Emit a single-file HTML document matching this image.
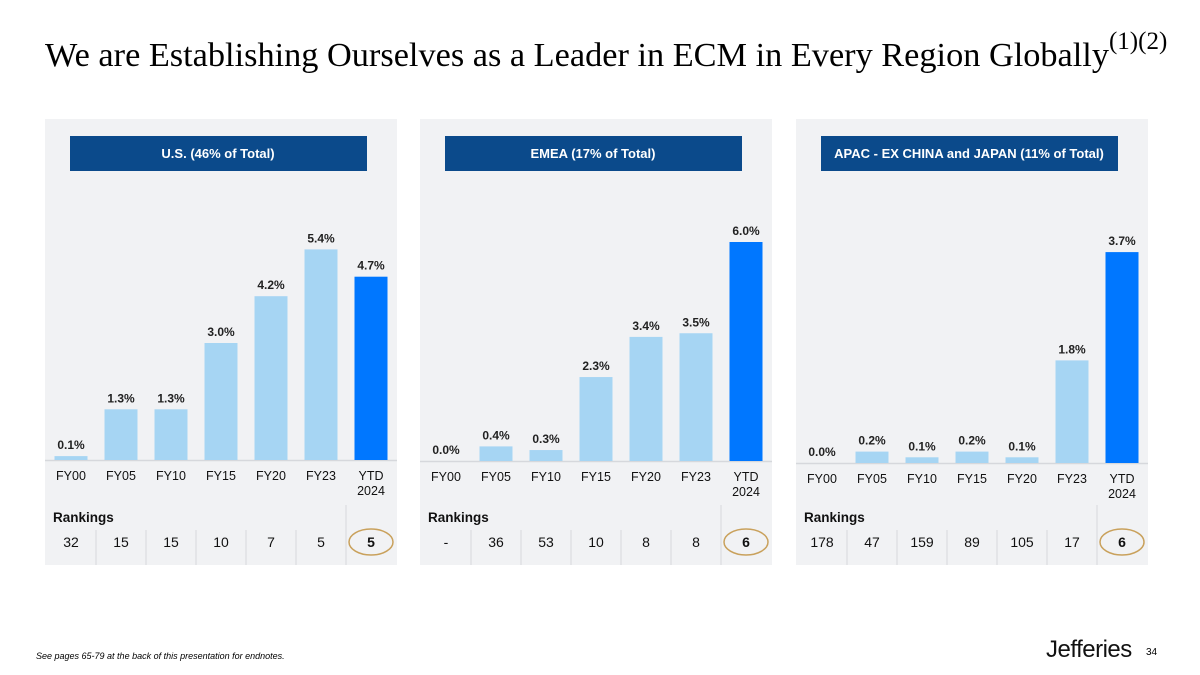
<!DOCTYPE html>
<html><head><meta charset="utf-8"><style>
body{margin:0;width:1200px;height:675px;background:#fff;position:relative;overflow:hidden;font-family:"Liberation Sans",sans-serif}
.title{position:absolute;left:45px;top:36px;font-family:"Liberation Serif",serif;font-size:34.3px;color:#000;white-space:nowrap}
.title sup{font-size:25px;vertical-align:17px;line-height:0}
.note{position:absolute;left:36px;top:651px;font-size:9px;font-style:italic;color:#000}
.logo{position:absolute;left:1046px;top:636px;font-size:24px;color:#111;letter-spacing:-0.5px}
.pg{position:absolute;left:1146px;top:647px;font-size:10px}
</style></head><body>
<div class="title">We are Establishing Ourselves as a Leader in ECM in Every Region Globally<sup>(1)(2)</sup></div>
<svg id="chart" width="1200" height="675" style="position:absolute;left:0;top:0"></svg>
<div class="note">See pages 65-79 at the back of this presentation for endnotes.</div>
<div class="logo">Jefferies</div>
<div class="pg">34</div>
<script>
const categories=["FY00","FY05","FY10","FY15","FY20","FY23","YTD 2024"];
const titles=["U.S. (46% of Total)","EMEA (17% of Total)","APAC - EX CHINA and JAPAN  (11% of Total)"];
const usValues=[0.1,1.3,1.3,3.0,4.2,5.4,4.7];
const emeaValues=[0.0,0.4,0.3,2.3,3.4,3.5,6.0];
const apacValues=[0.0,0.2,0.1,0.2,0.1,1.8,3.7];
const usRanks=["32","15","15","10","7","5","5"];
const emeaRanks=["-","36","53","10","8","8","6"];
const apacRanks=["178","47","159","89","105","17","6"];
const series=[usValues,emeaValues,apacValues];
const ranks=[usRanks,emeaRanks,apacRanks];
const panelX=[45,420,796];
const scales=[39,36.5,57];
const baselines=[460,461,463];
const ns="http://www.w3.org/2000/svg";
const svg=document.getElementById('chart');
function mk(t,a,p){const e=document.createElementNS(ns,t);for(const k in a)e.setAttribute(k,a[k]);(p||svg).appendChild(e);return e;}
function xPos(p,i){return panelX[p]+26+i*50;}
function yPos(p,v){return baselines[p]-v*scales[p];}
for(let p=0;p<3;p++){
  const px=panelX[p];
  const bg=mk('rect',{x:px,y:119,width:352,height:446,fill:'#f1f2f4'});
  
  
  const hd=mk('rect',{x:px+25,y:136,width:297,height:35,fill:'#0b4a8b'});
  
  
  const ht=mk('text',{x:px+173,y:158,'text-anchor':'middle','font-size':13,'font-weight':'bold',fill:'#fff'});
  ht.textContent=titles[p];
  
  
  const ax=mk('line',{x1:px,x2:px+352,y1:baselines[p]+0.5,y2:baselines[p]+0.5,stroke:'#d6d8dc','stroke-width':1.5});
  
  
  series[p].forEach((v,i)=>{
    const cx=xPos(p,i),y=yPos(p,v);
    const b=mk('rect',{x:cx-16.5,y:y,width:33,height:baselines[p]-y,fill:i==6?'#0077ff':'#a6d5f3'});
    
    
    const l=mk('text',{x:cx,y:y-7,'text-anchor':'middle','font-size':12,'font-weight':'bold',fill:'#222'});
    l.textContent=v.toFixed(1)+'%';
    
    
    const parts=categories[i].split(' ');
    parts.forEach((s,j)=>{
      const t=mk('text',{x:cx,y:baselines[p]+20+j*15,'text-anchor':'middle','font-size':12.5,fill:'#111'});
      t.textContent=s;
      
      
    });
    const r=mk('text',{x:cx,y:547,'text-anchor':'middle','font-size':14,'font-weight':i==6?'bold':'normal',fill:'#111'});
    r.textContent=ranks[p][i];
    
    
    if(i<6){
      const d=mk('line',{x1:cx+25,x2:cx+25,y1:i==5?505:530,y2:565,stroke:'#d6d8dc','stroke-width':1});
      
      
    }
  });
  const rl=mk('text',{x:px+8,y:522,'font-size':13.5,'font-weight':'bold',fill:'#111'});
  rl.textContent='Rankings';
  
  
  const el=mk('ellipse',{cx:xPos(p,6),cy:542,rx:22,ry:13,fill:'none',stroke:'#c9a15c','stroke-width':1.5});
  
  
}
</script>
</body></html>
